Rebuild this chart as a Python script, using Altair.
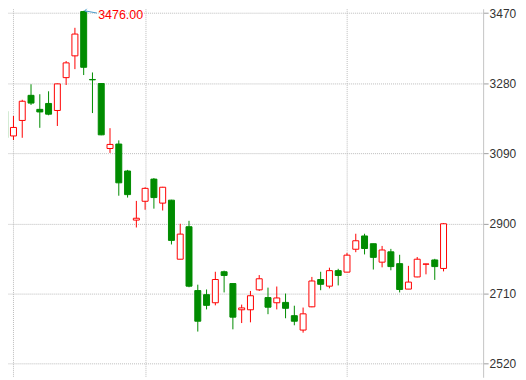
import altair as alt
import pandas as pd

# ---- data (daily candles) ----
opens = [3204, 3137, 3179, 3247, 3209, 3225, 3206, 3295, 3354, 3474,
         3290, 3279, 3103, 3115, 3042, 2909, 2960, 3020, 2955, 2963,
         2803, 2891, 2718, 2707, 2685, 2769, 2737, 2666, 2666, 2720,
         2699, 2685, 2686, 2650, 2611, 2674, 2748, 2730, 2772, 2768,
         2830, 2866, 2845, 2795, 2823, 2791, 2722, 2755, 2789.5, 2801,
         2778]
highs = [3215, 3191, 3235, 3277, 3250, 3258, 3279, 3340, 3430, 3476,
         3309, 3280, 3158, 3125, 3045, 2961, 2998, 3023, 2999, 2964,
         2899, 2907, 2734, 2721, 2769, 2772, 2737, 2680, 2717, 2760,
         2726, 2729, 2710, 2677, 2672, 2755, 2769, 2780, 2777, 2820,
         2872, 2872, 2845, 2839, 2831, 2815, 2785, 2809, 2790.5, 2804,
         2901]
lows = [3125, 3126, 3132, 3221, 3159, 3193, 3164, 3275, 3318, 3302,
        3199, 3139, 3091, 2975, 2970, 2889, 2937, 2940, 2935, 2843,
        2803, 2727, 2607, 2667, 2678, 2713, 2613, 2630, 2632, 2717,
        2654, 2667, 2643, 2624, 2604, 2673, 2719, 2724, 2732, 2768,
        2822, 2816, 2775, 2781, 2773, 2713, 2722, 2754, 2762, 2747,
        2770]
closes = [3132, 3160, 3231, 3226, 3202, 3196, 3278, 3335, 3413, 3323,
          3289, 3140, 3114, 3010, 2978, 2914, 2995, 2970, 2998, 2854,
          2871, 2730, 2635, 2678, 2748, 2759, 2646, 2671, 2704, 2750,
          2673, 2698, 2670, 2635, 2655, 2744, 2735, 2772, 2759, 2814,
          2853, 2832, 2808, 2828, 2783, 2721, 2741, 2803, 2790, 2783,
          2899]
month_starts = [1, 16, 39]
y_ticks = [2520, 2710, 2900, 3090, 3280, 3470]
peak_label = "3476.00"

n = len(opens)
df = pd.DataFrame({
    "i": list(range(n)),
    "open": opens, "high": highs, "low": lows, "close": closes,
})
df["dir"] = ["up" if c >= o else "down" for o, c in zip(opens, closes)]

peak_i = max(range(n), key=lambda k: highs[k])
peak = pd.DataFrame({"i": [peak_i], "high": [highs[peak_i]], "label": [peak_label]})

RED = "#ff0000"
GREEN = "#008c00"
ARROW = "#4a9cc8"

x_min = 1 - 0.5 / 9
x_scale = alt.Scale(domain=[x_min, x_min + 477 / 9], nice=False, zero=False)
y_scale = alt.Scale(domain=[2483.1, 3481.7], nice=False, zero=False)

x_axis = alt.Axis(values=month_starts, labels=False, ticks=False, domain=False,
                  grid=True, gridColor="#bdbdbd", gridDash=[1, 1], gridWidth=1,
                  title=None, orient="bottom")
y_axis = alt.Axis(values=y_ticks, format="d", orient="right", grid=True,
                  gridColor="#bdbdbd", gridDash=[1, 1], gridWidth=1,
                  domain=True, domainColor="#c4c4c4", domainWidth=1,
                  ticks=True, tickColor="#a0a0a0", tickSize=5,
                  labelPadding=1, labelFont="Liberation Sans", labelFontSize=12,
                  labelColor="#333333", title=None)

base = alt.Chart(df)

wicks = base.mark_rule(strokeWidth=1, clip=True).encode(
    x=alt.X("i:Q", scale=x_scale, axis=x_axis),
    y=alt.Y("low:Q", scale=y_scale, axis=y_axis),
    y2="high:Q",
    color=alt.Color("dir:N", scale=alt.Scale(domain=["up", "down"], range=[RED, GREEN]),
                    legend=None),
)

bodies = base.mark_bar(width=6, strokeWidth=1, clip=True).encode(
    x=alt.X("i:Q", scale=x_scale),
    y=alt.Y("open:Q", scale=y_scale),
    y2="close:Q",
    fill=alt.Fill("dir:N", scale=alt.Scale(domain=["up", "down"], range=["#ffffff", GREEN]),
                  legend=None),
    stroke=alt.Stroke("dir:N", scale=alt.Scale(domain=["up", "down"], range=[RED, GREEN]),
                      legend=None),
)

pk = alt.Chart(peak)
peak_seg = pk.transform_calculate(
    x1="datum.i + 0.12", x2="datum.i + 1.5", y2v="datum.high - 6"
).mark_rule(color=ARROW, strokeWidth=1, clip=True).encode(
    x=alt.X("x1:Q", scale=x_scale),
    x2="x2:Q",
    y=alt.Y("high:Q", scale=y_scale),
    y2="y2v:Q",
)
peak_head = pk.transform_calculate(x1="datum.i + 0.12").mark_point(
    shape="M1,-1L0,0L1,0.5", filled=False, color=ARROW, strokeWidth=1,
    size=25, opacity=1, clip=True
).encode(
    x=alt.X("x1:Q", scale=x_scale),
    y=alt.Y("high:Q", scale=y_scale),
)
peak_text = pk.mark_text(align="left", baseline="middle", dx=14.5, dy=4,
                         font="Liberation Sans", fontSize=12.5, color=RED).encode(
    x=alt.X("i:Q", scale=x_scale),
    y=alt.Y("high:Q", scale=y_scale),
    text="label:N",
)

chart = alt.layer(wicks, bodies, peak_seg, peak_head, peak_text).properties(
    width=477, height=370,
    autosize=alt.AutoSizeParams(type="none"),
    padding={"left": 0, "top": 0, "right": 35, "bottom": 0},
    background="#ffffff",
).configure_view(stroke=None)

chart.save("out.html", embed_options={"renderer": "svg", "actions": False})
